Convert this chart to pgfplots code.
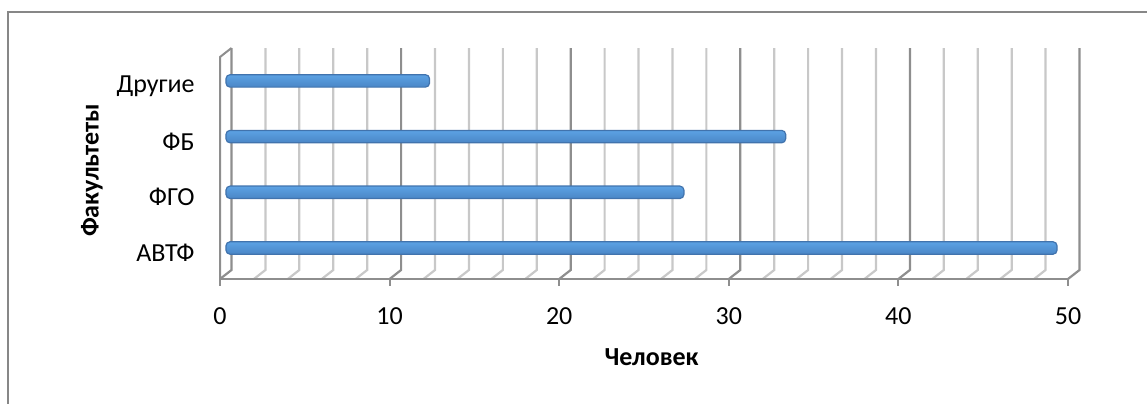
\documentclass[border=0pt]{standalone}
\usepackage{pgfplots}
\pgfplotsset{compat=1.18}
\usepackage{fontspec}
\setmainfont{Carlito}
\definecolor{gridminor}{HTML}{C8C8C8}
\definecolor{gridmajor}{HTML}{8E8E8E}
\definecolor{framegray}{HTML}{878787}
\definecolor{barmid}{HTML}{6CB2F2}
\definecolor{bartop}{HTML}{5CA2E4}
\definecolor{barbot}{HTML}{4A86C6}
\definecolor{baredge}{HTML}{4173AD}
\begin{document}
\begin{tikzpicture}[x=1pt,y=1pt]
\useasboundingbox (0,0) rectangle (573.5,201.5);
\clip (0,0) rectangle (573.5,201.5);
\draw[framegray, line width=1pt] (4,-5) -- (4,195.5) -- (580,195.5);
\pgfplotsset{base/.style={
  at={(110pt,62pt)}, anchor=south west, scale only axis,
  width=424pt, height=111pt,
  xmin=0, xmax=50, ymin=-0.467, ymax=3.519, clip=false,
  axis line style={draw=none}, major tick length=0pt, tick style={draw=none},
  /pgf/number format/assume math mode=true,
}}
\begin{axis}[base, xtick=\empty, ytick=\empty]
\pgfplotsinvokeforeach{2,4,6,8,12,14,16,18,22,24,26,28,32,34,36,38,42,44,46,48}{
  \draw[gridminor, line width=1.1pt] (axis cs:#1,-0.467) -- ++(canvas cs:x=5.75pt,y=4.5pt) -- ++(canvas cs:x=0pt,y=111pt);
}
\pgfplotsinvokeforeach{0,10,20,30,40,50}{
  \draw[gridmajor, line width=1.1pt] (axis cs:#1,-0.467) -- ++(canvas cs:x=5.75pt,y=4.5pt) -- ++(canvas cs:x=0pt,y=111pt);
  \draw[gridmajor, line width=1pt] (axis cs:#1,-0.467) -- ++(canvas cs:x=0pt,y=-3.5pt);
}
\draw[gridmajor, line width=1pt] (axis cs:0,-0.467) -- (axis cs:50,-0.467);
\draw[gridmajor, line width=1pt] (axis cs:0,-0.467) -- (axis cs:0,3.519) -- ++(canvas cs:x=5.75pt,y=4.5pt);
\end{axis}
\begin{axis}[base, xbar, bar width=6.2pt, bar shift=0pt,
  ytick={0,1,2,3}, yticklabels={АВТФ,ФГО,ФБ,Другие},
  xtick={0,10,20,30,40,50},
  every tick label/.append style={font=\fontsize{13}{15}\selectfont},
  xticklabel style={inner sep=0pt, anchor=north, yshift=-14pt},
  yticklabel style={inner sep=0pt, anchor=east, xshift=-12.5pt},
  xlabel={Человек},
  xlabel style={font=\bfseries\fontsize{13}{15}\selectfont, at={(axis description cs:0.509,-0.351)}, anchor=center},
  ylabel={Факультеты},
  ylabel style={font=\bfseries\fontsize{13}{15}\selectfont, at={(axis description cs:-0.151,0.49)}, anchor=center},
  barsty/.style={xshift=3pt, yshift=2.5pt, draw=baredge, line width=0.6pt, top color=bartop, middle color=barmid, bottom color=barbot, rounded corners=2pt},
]
\addplot[barsty] coordinates {(49,0)};
\addplot[barsty] coordinates {(27,1)};
\addplot[barsty] coordinates {(33,2)};
\addplot[barsty] coordinates {(12,3)};
\end{axis}
\end{tikzpicture}
\end{document}
